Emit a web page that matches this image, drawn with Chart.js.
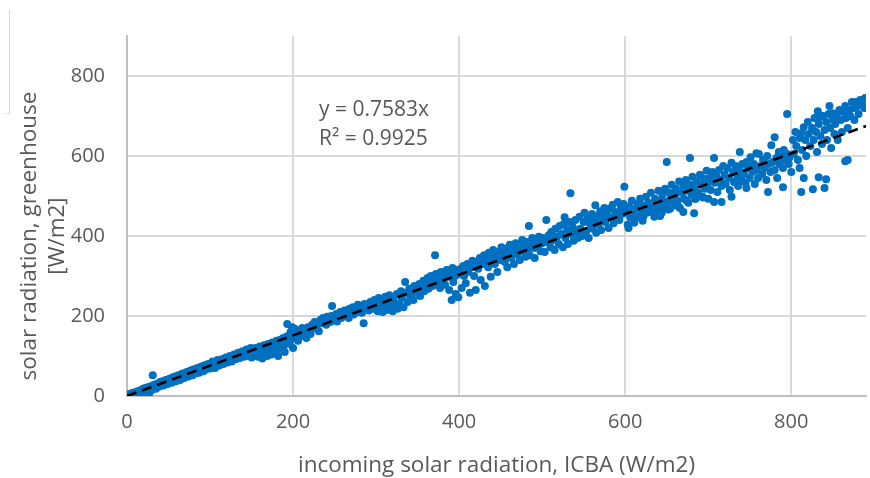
<!DOCTYPE html>
<html>
<head>
<meta charset="utf-8">
<script src="https://cdn.jsdelivr.net/npm/chart.js@4/dist/chart.umd.min.js"></script>
<style>
    html, body { margin: 0; padding: 0; background: #fff; }
    #wrap { position: relative; width: 870px; height: 478px; }
    #corner {
        position: absolute; left: 5px; top: 10px; width: 4px; height: 103px;
        border-right: 1px solid #d6d6d6; border-bottom: 1px solid #e4e4e4;
    }
</style>
</head>
<body>
<div id="wrap">
    <div id="corner"></div>
    <canvas id="scatter" width="870" height="478"></canvas>
</div>
<script>
// Hourly pairs: ICBA incoming radiation (x) vs. greenhouse radiation (y), W/m2
const radiationPairs = [
    // 0 - 100
    [0,0],[1,2],[2,4],[3,0],[4,3],[5,6],[6,2],[7,8],[8,5],[9,3],[10,9],[11,6],[12,11],[13,5],[14,12],[15,8],
    [16,14],[17,9],[18,16],[19,11],[20,18],[21,12],[22,20],[23,14],[24,11],[25,2],[25,22],[26,16],[27,8],[28,24],
    [29,18],[30,15],[31,52],[31,26],[32,20],[33,28],[34,22],[35,18],[36,30],[37,25],[38,32],[39,24],[40,35],[41,28],
    [42,36],[43,30],[44,26],[45,38],[46,33],[47,40],[48,34],[49,30],[50,42],[51,36],[52,44],[53,38],[54,33],[55,46],
    [56,40],[57,48],[58,42],[59,37],[60,50],[61,45],[62,52],[63,44],[64,40],[65,54],[66,48],[67,56],[68,50],[69,45],
    [70,57],[71,52],[72,60],[73,54],[74,49],[75,62],[76,56],[77,64],[78,58],[79,52],[80,66],[81,60],[82,67],[83,57],
    [84,63],[85,70],[86,64],[87,58],[88,72],[89,66],[90,74],[91,68],[92,62],[93,76],[94,70],[95,66],[96,78],[97,72],
    [98,80],[99,74],[100,69],
    // 100 - 200
    [102,78],[103,86],[104,80],[105,75],[106,70],[107,83],[108,79],[109,90],[110,85],[111,76],[112,82],[113,88],
    [114,92],[115,86],[116,80],[117,90],[118,84],[119,96],[120,92],[121,84],[122,95],[123,89],[124,100],[125,97],
    [126,86],[127,93],[128,99],[129,104],[130,98],[131,92],[132,102],[133,95],[134,108],[135,104],[136,95],[137,101],
    [138,107],[139,112],[140,106],[141,98],[142,110],[143,100],[144,116],[145,113],[146,104],[147,108],[148,115],
    [149,120],[150,112],[150,96],[151,106],[152,118],[153,104],[155,120],[157,114],[158,98],[160,124],[160,108],
    [162,118],[163,94],[165,127],[166,110],[168,122],[169,100],[170,130],[171,115],[173,126],[174,104],[175,134],
    [176,120],[178,112],[180,138],[181,125],[182,100],[184,140],[185,118],[186,132],[188,145],[189,126],[190,110],
    [192,148],[193,180],[193,136],[195,152],[196,130],[197,160],[198,142],[199,172],[200,155],[200,120],
    // 200 - 300
    [202,168],[203,146],[205,158],[206,138],[208,162],[210,150],[211,170],[213,160],[215,165],[216,145],[218,172],
    [220,168],[221,155],[223,178],[225,170],[226,185],[228,175],[230,180],[231,162],[233,190],[235,182],[236,195],
    [238,186],[240,178],[241,198],[243,190],[245,185],[246,200],[247,225],[248,192],[250,196],[252,205],[253,186],
    [255,198],[257,210],[258,195],[260,202],[262,214],[263,200],[265,206],[267,195],[268,218],[270,208],[272,222],
    [273,204],[275,215],[277,210],[278,228],[280,216],[282,222],[283,208],[285,182],[286,230],[288,220],[290,226],
    [291,214],[293,235],[295,225],[297,218],[298,240],[300,230],
    // 300 - 400
    [302,212],[303,245],[305,218],[306,232],[308,210],[310,222],[311,248],[313,215],[315,228],[316,252],[318,220],
    [320,212],[321,240],[323,225],[325,255],[326,218],[328,230],[330,262],[331,245],[333,222],[335,285],[336,258],
    [338,235],[340,268],[341,250],[343,262],[345,240],[346,275],[348,258],[350,268],[352,280],[353,250],[355,272],
    [357,288],[358,262],[360,278],[362,295],[363,268],[365,285],[366,300],[368,275],[370,292],[371,352],[372,305],
    [373,282],[375,296],[377,270],[378,310],[380,290],[382,302],[383,278],[385,315],[387,298],[388,265],[390,308],
    [391,240],[392,320],[393,285],[395,300],[396,255],[398,315],[399,247],[400,305],
    // 400 - 500
    [402,318],[403,270],[405,325],[406,300],[408,282],[410,330],[411,310],[413,258],[415,322],[416,338],[418,300],
    [420,265],[421,335],[423,318],[425,345],[426,290],[428,330],[430,352],[431,275],[433,340],[435,322],[436,358],
    [438,298],[440,345],[441,365],[443,330],[445,350],[446,310],[448,360],[450,340],[451,372],[453,352],[455,335],
    [456,368],[458,322],[460,358],[461,378],[463,345],[465,365],[466,330],[468,382],[470,355],[471,368],[473,340],
    [475,375],[476,390],[478,360],[480,348],[481,385],[483,368],[484,425],[485,352],[487,378],[488,395],[490,370],
    [491,345],[493,388],[495,375],[496,398],[498,362],[500,382],
    // 500 - 600
    [502,395],[503,360],[505,440],[506,385],[508,402],[510,372],[511,410],[513,390],[515,365],[516,418],[518,398],
    [520,380],[521,425],[523,405],[525,372],[526,430],[527,447],[528,395],[530,415],[531,380],[533,435],[534,507],
    [535,405],[537,422],[538,388],[540,440],[541,410],[543,395],[545,448],[546,418],[548,400],[550,435],[551,458],
    [553,412],[555,445],[556,395],[558,428],[560,455],[561,418],[563,440],[564,477],[565,408],[567,450],[568,430],
    [570,462],[571,415],[573,445],[575,470],[576,435],[578,455],[580,420],[581,468],[583,445],[585,478],[586,432],
    [588,460],[590,448],[591,485],[593,440],[595,470],[596,455],[598,480],[599,523],[600,462],
    // 600 - 700
    [602,458],[603,428],[604,420],[605,473],[606,446],[608,488],[610,453],[611,433],[612,443],[613,468],[615,480],
    [616,448],[618,493],[620,460],[621,438],[622,450],[623,476],[625,498],[626,458],[628,483],[630,466],[631,508],
    [633,473],[634,458],[635,448],[636,493],[638,478],[640,513],[641,463],[642,450],[643,488],[644,458],[645,503],
    [646,473],[648,518],[650,585],[650,486],[652,466],[653,508],[654,468],[655,493],[656,528],[658,476],[660,503],
    [661,518],[663,488],[664,474],[665,536],[666,470],[668,508],[670,460],[670,523],[671,493],[673,540],[674,488],
    [675,513],[676,483],[678,595],[678,528],[680,503],[681,548],[683,457],[683,518],[684,493],[685,493],[686,536],
    [688,508],[690,553],[691,528],[693,498],[694,496],[695,543],[696,518],[698,563],[700,533],[700,493],
    // 700 - 800
    [702,545],[703,515],[705,560],[707,485],[707,595],[708,533],[710,550],[711,510],[713,565],[715,540],[716,485],
    [716,525],[718,575],[720,553],[721,530],[723,570],[725,545],[726,515],[728,498],[728,583],[730,560],[731,535],
    [733,575],[735,550],[736,525],[738,610],[738,565],[740,540],[741,580],[743,555],[745,533],[746,520],[746,585],
    [748,570],[750,545],[751,597],[753,560],[755,580],[756,530],[758,607],[758,565],[760,545],[761,605],[763,575],
    [765,555],[766,590],[768,570],[770,540],[771,600],[772,510],[773,580],[775,560],[776,627],[778,585],[780,647],
    [780,565],[782,595],[783,545],[785,610],[786,580],[788,597],[790,522],[790,570],[791,615],[793,590],[795,705],
    [795,605],[797,580],[798,597],[800,560],
    // 800 - 890
    [802,640],[803,605],[805,660],[806,625],[808,590],[810,570],[810,645],[812,657],[812,510],[813,615],[815,545],
    [815,672],[817,640],[818,600],[820,685],[821,655],[823,625],[825,670],[826,517],[827,640],[828,695],[830,660],
    [831,610],[832,712],[833,547],[833,680],[834,697],[835,650],[837,630],[838,700],[840,520],[840,665],[842,542],
    [842,685],[843,640],[845,705],[846,725],[847,670],[848,620],[850,707],[850,690],[852,655],[853,680],[855,700],
    [856,640],[858,715],[860,690],[861,660],[863,710],[865,587],[865,725],[866,695],[868,590],[868,670],[870,715],
    [871,700],[873,735],[875,720],[876,690],[878,735],[880,725],[881,705],[883,740],[885,730],[886,740],[888,720],
    [889,745]
];

// Linear trend through the origin, as given by the fit label
const trendSlope = 0.7583;
const trendR2 = 0.9925;
const xRange = [0, 890];
const yRange = [0, 900];
const tickStep = 200;

const xTitle = 'incoming solar radiation, ICBA (W/m2)';
const yTitleLines = ['solar radiation, greenhouse', '[W/m2]'];
const fitLabels = [`y = ${trendSlope}x`, `R\u00B2 = ${trendR2}`];

const FONT = '"Open Sans", "Noto Sans", sans-serif';
const TEXT_GREY = '#595959';

// Axis titles + fit equation, drawn straight onto the canvas
const labelsPlugin = {
    id: 'labels',
    afterDraw(chart) {
        const ctx = chart.ctx;
        const area = chart.chartArea;
        ctx.save();
        ctx.fillStyle = TEXT_GREY;
        ctx.font = `22.5px ${FONT}`;

        ctx.textAlign = 'center';
        ctx.textBaseline = 'middle';
        ctx.fillText(xTitle, (area.left + area.right) / 2, 466);

        ctx.save();
        ctx.translate(0, 236);
        ctx.rotate(-Math.PI / 2);
        ctx.fillText(yTitleLines[0], 0, 30);
        ctx.fillText(yTitleLines[1], 0, 58);
        ctx.restore();

        ctx.font = `21px ${FONT}`;
        ctx.textAlign = 'left';
        ctx.textBaseline = 'alphabetic';
        ctx.fillText(fitLabels[0], 319, 116);
        ctx.fillText(fitLabels[1], 319, 145);
        ctx.restore();
    }
};

document.addEventListener('DOMContentLoaded', () => {
    const ctx = document.getElementById('scatter').getContext('2d');

    new Chart(ctx, {
        type: 'scatter',
        data: {
            datasets: [
                {
                    label: 'Linear trend',
                    type: 'line',
                    data: xRange.map(x => ({ x, y: trendSlope * x })),
                    borderColor: '#000000',
                    borderWidth: 2.6,
                    borderDash: [10, 6],
                    pointRadius: 0,
                    fill: false,
                    order: 0,
                },
                {
                    label: 'Radiation',
                    data: radiationPairs.map(([x, y]) => ({ x, y })),
                    backgroundColor: '#0070C0',
                    borderWidth: 0,
                    pointRadius: 4,
                    order: 1,
                }
            ]
        },
        options: {
            responsive: false,
            animation: false,
            layout: { padding: { top: 36, right: 0, left: 0, bottom: 0 } },
            scales: {
                x: {
                    type: 'linear',
                    min: xRange[0],
                    max: xRange[1],
                    afterFit: (scale) => { scale.height = 82; },
                    grid: { color: '#d9d9d9', lineWidth: 2, drawTicks: false },
                    border: { color: '#bfbfbf', width: 2 },
                    ticks: {
                        stepSize: tickStep,
                        includeBounds: false,
                        padding: 14,
                        color: TEXT_GREY,
                        font: { family: FONT, size: 20 },
                    },
                },
                y: {
                    type: 'linear',
                    min: yRange[0],
                    max: yRange[1],
                    afterFit: (scale) => { scale.width = 127; },
                    grid: { color: '#d9d9d9', lineWidth: 2, drawTicks: false },
                    border: { color: '#bfbfbf', width: 2 },
                    ticks: {
                        stepSize: tickStep,
                        includeBounds: false,
                        padding: 22,
                        color: TEXT_GREY,
                        font: { family: FONT, size: 20 },
                    },
                },
            },
            plugins: {
                legend: { display: false },
                tooltip: { enabled: false },
            },
        },
        plugins: [labelsPlugin],
    });
});
</script>
</body>
</html>
